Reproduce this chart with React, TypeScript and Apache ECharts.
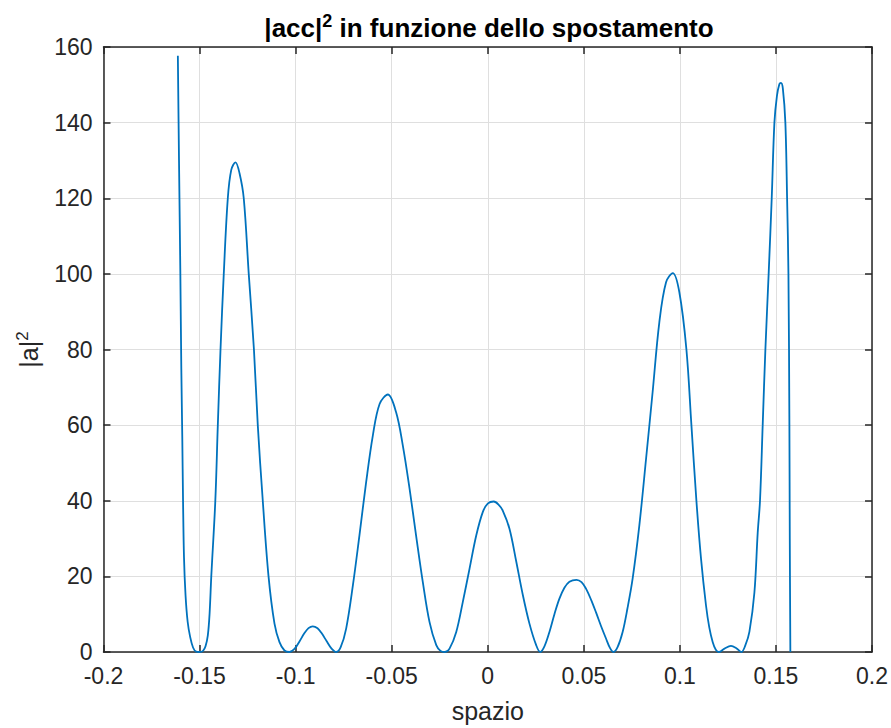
import React, { useEffect, useRef } from "react";
import * as echarts from "echarts";

// x positions (spazio)
const spaceVals = [
  -0.1613, -0.1607, -0.16, -0.1595, -0.159, -0.1586, -0.1581, -0.1573, -0.1562, -0.1549, -0.1534, -0.1518,
  -0.15, -0.1482, -0.1469, -0.1457, -0.1448, -0.1439, -0.1418, -0.1405, -0.1391, -0.1374, -0.1353, -0.1335,
  -0.1313, -0.1292, -0.127, -0.1244, -0.1217, -0.1197, -0.1171, -0.1141, -0.111, -0.1084, -0.1058, -0.1032,
  -0.1006, -0.098, -0.0954, -0.0933, -0.0911, -0.0886, -0.0865, -0.0839, -0.0813, -0.0789,
  -0.0766, -0.0737, -0.0702, -0.0668, -0.0633, -0.0598, -0.0563, -0.052, -0.0477, -0.0442, -0.0407, -0.0373,
  -0.0338, -0.0303, -0.0268, -0.0246, -0.0223,
  -0.0199, -0.0164, -0.013, -0.0095, -0.006, -0.0026, 0.0001, 0.0031, 0.0056, 0.0078, 0.0113, 0.0148, 0.0182,
  0.0217, 0.0252, 0.0273,
  0.0295, 0.0321, 0.0347, 0.0373, 0.0399, 0.0425, 0.0462, 0.0488, 0.0512, 0.0538, 0.0564, 0.059, 0.0616,
  0.0636, 0.0654,
  0.0675, 0.0702, 0.0727, 0.0754, 0.0789, 0.0824, 0.0858, 0.0893, 0.0928, 0.0963, 0.0997, 0.1034, 0.106,
  0.1086, 0.111, 0.1136, 0.1153, 0.1171, 0.1187, 0.1203,
  0.1232, 0.1266, 0.1294, 0.132,
  0.1341, 0.1362, 0.1388, 0.1405, 0.1417, 0.1431, 0.1445, 0.1462, 0.1478, 0.1492, 0.1505, 0.1518, 0.1526,
  0.1536, 0.1549, 0.1558, 0.1565, 0.157, 0.1572, 0.1575,
];

// |a|^2 values
const acc2Vals = [
  157.7, 130, 100, 75, 57, 40, 25, 15, 8, 4, 1.2, 0.1,
  0, 0.3, 1.5, 4.4, 10, 20, 40, 60, 80, 100, 120, 127.5,
  129.5, 126.6, 120, 100, 80, 60, 40, 20, 7.5, 2.6, 0.4, 0,
  0.8, 2.8, 5, 6.3, 6.8, 6.3, 5, 2.9, 0.9, 0,
  1.2, 6.2, 17.6, 30.8, 44.9, 57.3, 65.6, 68.1, 63.4, 54.6, 43.2, 30.8,
  18.5, 7.9, 1.8, 0.3, 0,
  0.9, 5.3, 13.2, 22, 30.8, 37, 39.3, 39.8, 39, 37.4, 32.6, 24, 15.2,
  7.5, 1.8, 0,
  1.5, 5.3, 10, 14.1, 17, 18.6, 19.1, 18.5, 16.7, 13.8, 10.4, 6.8, 3.5,
  1.1, 0,
  1.2, 5.3, 11.5, 19.4, 33.5, 51.1, 68.7, 87.2, 97.8, 100.2, 95.2, 80, 60,
  40, 24.7, 12.3, 6.5, 2.6, 0.6, 0,
  0.9, 1.6, 1.0, 0,
  1.8, 5.4, 15.8, 31.5, 40, 60, 80, 100, 120, 140, 147, 150.2, 150.5,
  149, 140, 120, 100, 60, 30, 0,
];

const xTickLabels = ["-0.2", "-0.15", "-0.1", "-0.05", "0", "0.05", "0.1", "0.15", "0.2"];
const yTickLabels = ["0", "20", "40", "60", "80", "100", "120", "140", "160"];

const FONT = "'Liberation Sans', Arial, Helvetica, sans-serif";
const AXIS_COLOR = "#262626";
const GRID_COLOR = "#dfdfdf";

export default function App() {
  const ref = useRef<HTMLDivElement>(null);

  useEffect(() => {
    if (!ref.current) return;
    const chart = echarts.init(ref.current, undefined, { renderer: "svg" });

    const data = spaceVals.map((x, i) => [x, acc2Vals[i]]);

    const axisLine = { show: true, onZero: false, lineStyle: { color: AXIS_COLOR, width: 1.5 } };
    const axisTick = { show: true, inside: true, length: 7, lineStyle: { color: AXIS_COLOR, width: 1.5 } };

    const xBase = { type: "value", min: -0.2, max: 0.2, interval: 0.05 };
    const yBase = { type: "value", min: 0, max: 160, interval: 20 };

    chart.setOption({
      animation: false,
      backgroundColor: "#ffffff",
      title: {
        text: "{b||acc|}{s|2}{b| in funzione dello spostamento}",
        left: 484,
        top: 7,
        textAlign: "center",
        textStyle: {
          rich: {
            b: { fontSize: 26, fontWeight: "bold", fontFamily: FONT, color: "#000", lineHeight: 32 },
            s: { fontSize: 18, fontWeight: "bold", fontFamily: FONT, color: "#000", lineHeight: 16, verticalAlign: "top" },
          },
        },
      },
      grid: { left: 103.5, right: 18.5, top: 47, bottom: 74.5 },
      xAxis: [
        {
          ...xBase,
          position: "bottom",
          axisLine,
          axisTick,
          axisLabel: {
            show: true,
            fontSize: 23,
            color: AXIS_COLOR,
            fontFamily: FONT,
            margin: 12,
            showMinLabel: true,
            showMaxLabel: true,
            formatter: (v: number) => xTickLabels[Math.round((v + 0.2) / 0.05)] ?? "",
          },
          splitLine: { show: true, lineStyle: { color: GRID_COLOR, width: 1 } },
          name: "spazio",
          nameLocation: "middle",
          nameGap: 46,
          nameTextStyle: { fontSize: 25, color: AXIS_COLOR, fontFamily: FONT },
        },
        {
          ...xBase,
          position: "top",
          axisLine,
          axisTick,
          axisLabel: { show: false },
          splitLine: { show: false },
        },
      ],
      yAxis: [
        {
          ...yBase,
          position: "left",
          axisLine,
          axisTick,
          axisLabel: {
            show: true,
            fontSize: 23,
            color: AXIS_COLOR,
            fontFamily: FONT,
            margin: 11,
            showMinLabel: true,
            showMaxLabel: true,
            formatter: (v: number) => yTickLabels[Math.round(v / 20)] ?? "",
          },
          splitLine: { show: true, lineStyle: { color: GRID_COLOR, width: 1 } },
          name: "{m||a|}{s|2}",
          nameLocation: "middle",
          nameGap: 60,
          nameRotate: 90,
          nameTextStyle: {
            rich: {
              m: { fontSize: 25, fontFamily: FONT, color: AXIS_COLOR, lineHeight: 30 },
              s: { fontSize: 17, fontFamily: FONT, color: AXIS_COLOR, lineHeight: 15, verticalAlign: "top" },
            },
          },
        },
        {
          ...yBase,
          position: "right",
          axisLine,
          axisTick,
          axisLabel: { show: false },
          splitLine: { show: false },
        },
      ],
      series: [
        {
          type: "line",
          xAxisIndex: 0,
          yAxisIndex: 0,
          data,
          showSymbol: false,
          smooth: 0.35,
          clip: true,
          lineStyle: { color: "#0072BD", width: 1.8 },
          itemStyle: { color: "#0072BD" },
          emphasis: { disabled: true },
        },
      ],
    });

    return () => chart.dispose();
  }, []);

  return (
    <div
      ref={ref}
      style={{ position: "fixed", left: 0, top: 0, width: 891, height: 728, background: "#fff" }}
    />
  );
}
